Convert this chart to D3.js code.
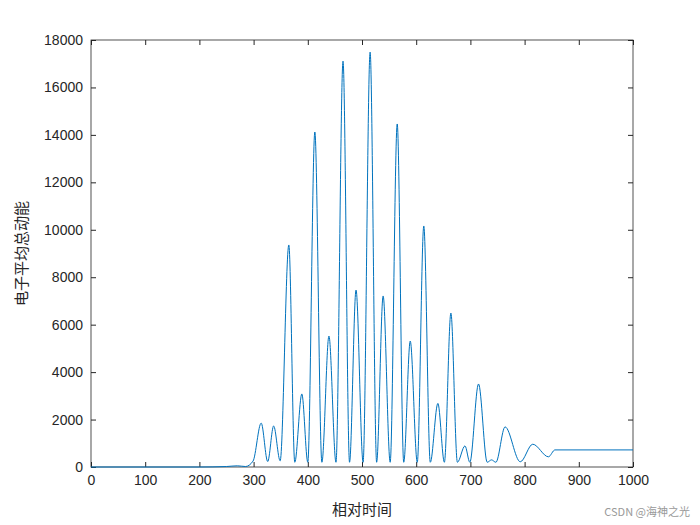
<!DOCTYPE html>
<html><head><meta charset="utf-8">
<script src="https://cdn.jsdelivr.net/npm/d3@7"></script>
<style>body{margin:0;background:#fff}</style>
</head><body>
<svg id="chart" width="700" height="525"></svg>
<script>
// time / energy control points (peaks and troughs)
const times = [0, 200, 250, 270, 285, 299, 314, 326, 337, 349, 365, 376, 389, 400, 413, 426, 439, 452, 465, 477, 489, 502, 515, 527, 539, 552, 565, 577, 589, 602, 614, 626, 640, 652, 664, 676, 690, 699, 715, 731, 739, 747, 764, 792, 815, 844, 856, 1000]
const energy = [0, 0, 20, 50, 20, 250, 1850, 230, 1730, 260, 9360, 200, 3080, 200, 14120, 200, 5520, 200, 17110, 200, 7460, 200, 17490, 200, 7210, 200, 14460, 200, 5310, 200, 10160, 200, 2680, 200, 6490, 200, 890, 200, 3500, 200, 300, 200, 1690, 220, 960, 430, 720, 720]
const xTicks = [0, 100, 200, 300, 400, 500, 600, 700, 800, 900, 1000]
const yTicks = [0, 2000, 4000, 6000, 8000, 10000, 12000, 14000, 16000, 18000]

const layout = {left: 91, right: 633, top: 40, bottom: 467}
const svg = d3.select("#chart")

const x = d3.scaleLinear().domain([0, 1000]).range([layout.left, layout.right])
const y = d3.scaleLinear().domain([0, 18000]).range([layout.bottom, layout.top])

const styleAxis = g => {
  g.select(".domain").remove()
  g.selectAll("line").attr("stroke", "#262626")
  g.selectAll("text").attr("fill", "#262626").style("font-size", "14px").style("font-family", "Liberation Sans, Arial, sans-serif")
}

svg.append("g").attr("transform", `translate(0,${layout.bottom})`)
   .call(d3.axisBottom(x).tickValues(xTicks).tickFormat(d3.format("d")).tickSize(-5).tickPadding(8)).call(styleAxis)
svg.append("g").attr("transform", `translate(0,${layout.top})`)
   .call(d3.axisTop(x).tickValues(xTicks).tickSize(-5).tickFormat("")).call(styleAxis)
svg.append("g").attr("transform", `translate(${layout.left},0)`)
   .call(d3.axisLeft(y).tickValues(yTicks).tickFormat(d3.format("d")).tickSize(-5).tickPadding(8)).call(styleAxis)
svg.append("g").attr("transform", `translate(${layout.right},0)`)
   .call(d3.axisRight(y).tickValues(yTicks).tickSize(-5).tickFormat("")).call(styleAxis)

svg.append("rect").attr("x", layout.left).attr("y", layout.top)
   .attr("width", layout.right - layout.left).attr("height", layout.bottom - layout.top)
   .attr("fill", "none").attr("stroke", "#262626").attr("stroke-width", 0.8)

const line = d3.line().x((d, i) => x(times[i])).y(d => y(d)).curve(d3.curveMonotoneX)
svg.append("path").datum(energy).attr("d", line)
   .attr("fill", "none").attr("stroke", "#0072BD").attr("stroke-width", 1)

svg.append("text").attr("x", (layout.left + layout.right) / 2).attr("y", 515)
   .attr("text-anchor", "middle").attr("fill", "#262626")
   .style("font-size", "15px").style("font-family", "Noto Sans CJK SC").text("相对时间")
svg.append("text").attr("transform", `translate(27,${(layout.top + layout.bottom) / 2}) rotate(-90)`)
   .attr("text-anchor", "middle").attr("fill", "#262626")
   .style("font-size", "15px").style("font-family", "Noto Sans CJK SC").text("电子平均总动能")

svg.append("text").attr("x", 690).attr("y", 516).attr("text-anchor", "end").attr("fill", "#999")
   .style("font-size", "11px").style("font-family", "Noto Sans CJK SC").text("CSDN @海神之光")
</script>
</body></html>
